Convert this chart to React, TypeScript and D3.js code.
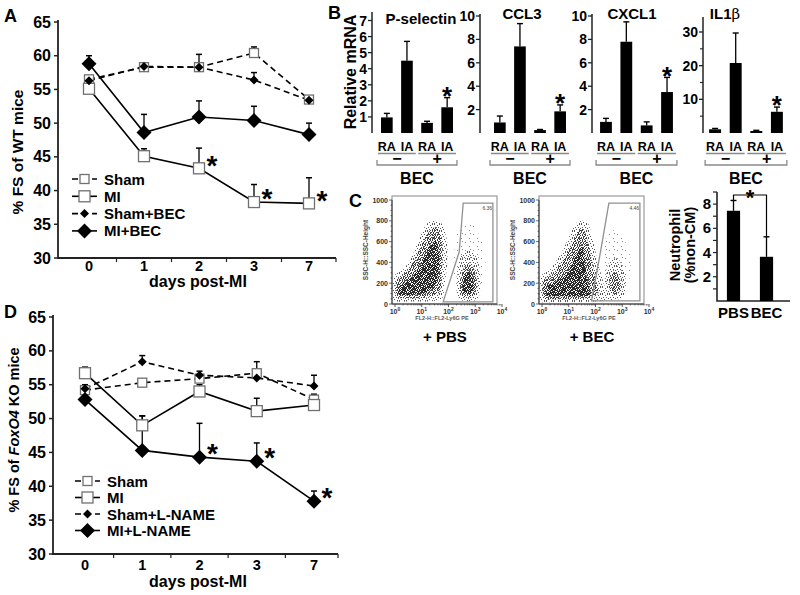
import React from "react";
import * as d3 from "d3";

const FONT = "'Liberation Sans', Arial, Helvetica, sans-serif";

// ---------------- Panels A & D ----------------
const days = ["0", "1", "2", "3", "7"];
const yTicksFS = [30, 35, 40, 45, 50, 55, 60, 65];

const aSham = [56.5, 58.3, 58.3, 60.4, 53.5];
const aShamErr = [0.4, 0.3, 1.9, 0.9, 0.4];
const aMI = [55.1, 45.1, 43.3, 38.3, 38.1];
const aMIErr = [0.5, 1.1, 3.0, 2.6, 3.8];
const aShamBEC = [56.3, 58.4, 58.3, 56.4, 53.4];
const aShamBECErr = [0.5, 0.3, 0.3, 1.1, 0.4];
const aMIBEC = [58.8, 48.6, 50.9, 50.4, 48.3];
const aMIBECErr = [1.2, 2.7, 2.4, 2.1, 1.7];
const aLegend = ["Sham", "MI", "Sham+BEC", "MI+BEC"];
const aStarDays = ["2", "3", "7"];

const dSham = [54.2, 55.3, 55.9, 56.7, 52.8];
const dShamErr = [0.5, 0.5, 0.5, 1.7, 0.8];
const dMI = [56.7, 49.0, 54.0, 51.1, 52.0];
const dMIErr = [0.9, 1.4, 1.0, 1.9, 1.0];
const dShamLN = [54.4, 58.4, 56.4, 56.0, 54.8];
const dShamLNErr = [0.6, 0.9, 0.6, 0.5, 1.6];
const dMILN = [52.8, 45.3, 44.3, 43.7, 37.8];
const dMILNErr = [0.5, 5.1, 5.0, 2.7, 1.5];
const dLegend = ["Sham", "MI", "Sham+L-NAME", "MI+L-NAME"];
const dStarDays = ["2", "3", "7"];

const markerKinds = ["sqS", "sqL", "dmS", "dmL"];
const dashedFlags = [true, false, true, false];

// ---------------- Panel B ----------------
const bCats = ["RA-", "IA-", "RA+", "IA+"];
const bCatLabels = ["RA", "IA", "RA", "IA"];
const bGroupSigns = ["\u2212", "+"];
const pselVals = [0.97, 4.5, 0.63, 1.6];
const pselErr = [0.25, 1.2, 0.1, 0.6];
const ccl3Vals = [0.9, 7.4, 0.25, 1.85];
const ccl3Err = [0.55, 1.95, 0.05, 0.55];
const cxcl1Vals = [0.95, 7.8, 0.65, 3.5];
const cxcl1Err = [0.3, 1.7, 0.3, 1.25];
const il1bVals = [1.1, 20.8, 0.6, 6.3];
const il1bErr = [0.25, 8.9, 0.2, 1.4];

// ---------------- Panel C ----------------
const nCats = ["PBS", "BEC"];
const nVals = [7.45, 3.65];
const nErr = [0.85, 1.65];
const flowYTicks = [0, 200, 400, 600, 800, 1000];
const flowDecades = [0, 1, 2, 3, 4];

// cloud outlines in (log10 FL2, SSC) units
const pbsLayers = [
  { pat: "st0", pts: [[2.2, 300], [2.35, 700], [2.9, 760], [3.35, 520], [3.3, 200], [2.6, 120]] },
  { pat: "st1", pts: [[-0.05, 40], [-0.05, 260], [0.3, 330], [0.6, 440], [0.9, 620], [1.15, 760], [1.45, 800], [1.75, 770], [1.95, 600], [1.95, 380], [1.85, 180], [1.75, 50], [1.2, 25], [0.5, 25]] },
  { pat: "st2", pts: [[0.05, 70], [0.05, 220], [0.4, 300], [0.75, 430], [1.05, 600], [1.35, 720], [1.6, 730], [1.78, 560], [1.75, 300], [1.65, 110], [1.1, 60], [0.5, 55]] },
  { pat: "st3", pts: [[0.15, 90], [0.2, 180], [0.6, 250], [1.0, 400], [1.3, 560], [1.55, 600], [1.65, 420], [1.55, 200], [1.2, 110], [0.6, 90]] },
  { pat: "st1", pts: [[2.35, 60], [2.3, 250], [2.45, 450], [2.75, 520], [3.1, 420], [3.2, 200], [3.1, 50], [2.7, 30]] },
  { pat: "st2", pts: [[2.45, 90], [2.45, 250], [2.65, 380], [2.95, 340], [3.05, 180], [2.95, 80], [2.7, 60]] },
  { pat: "st3", pts: [[2.55, 130], [2.6, 280], [2.85, 300], [2.95, 180], [2.8, 100]] },
];
const becLayers = [
  { pat: "st0", pts: [[2.3, 300], [2.4, 650], [2.9, 700], [3.3, 450], [3.2, 180], [2.6, 120]] },
  { pat: "st1", pts: [[-0.05, 30], [-0.05, 260], [0.3, 330], [0.7, 480], [1.0, 640], [1.25, 770], [1.5, 800], [1.75, 760], [1.95, 560], [2.1, 380], [2.3, 200], [2.35, 40], [1.5, 20], [0.5, 20]] },
  { pat: "st2", pts: [[0.05, 60], [0.05, 220], [0.45, 300], [0.85, 450], [1.15, 600], [1.4, 720], [1.6, 700], [1.8, 500], [1.95, 300], [2.1, 100], [1.5, 50], [0.5, 45]] },
  { pat: "st3", pts: [[0.15, 80], [0.2, 170], [0.6, 230], [1.0, 330], [1.3, 480], [1.5, 560], [1.6, 400], [1.7, 220], [1.8, 90], [1.2, 70], [0.6, 75]] },
  { pat: "st1", pts: [[2.4, 60], [2.35, 250], [2.55, 420], [2.85, 430], [3.1, 300], [3.1, 100], [2.8, 40]] },
  { pat: "st2", pts: [[2.55, 120], [2.55, 280], [2.8, 300], [2.95, 200], [2.85, 100]] },
];
const pbsGate = [[1.8, 20], [2.4, 500], [2.55, 970], [3.66, 970], [3.66, 20]];
const becGate = [[1.85, 30], [2.2, 520], [2.5, 970], [3.66, 970], [3.66, 30]];

// stipple textures (tile size, dot offsets, colour)
const stipples = [
  { id: "st0", size: 8, color: "#888", dots: [[1, 2], [5, 6], [6, 1]] },
  { id: "st1", size: 7, color: "#555", dots: [[0, 0], [3, 1], [5, 0], [1, 3], [4, 3], [6, 4], [2, 5], [5, 6], [0, 6]] },
  { id: "st2", size: 5, color: "#3a3a3a", dots: [[0, 0], [2, 0], [4, 1], [1, 2], [3, 2], [0, 3], [2, 4], [4, 4], [3, 3]] },
  { id: "st3", size: 4, color: "#1e1e1e", dots: [[0, 0], [1, 1], [2, 0], [3, 2], [0, 2], [2, 3], [1, 3], [3, 1]] },
];

const STAR_OFF = 0.58;

function Marker({ kind, x, y }: any) {
  if (kind === "sqS") return <rect x={x - 4.5} y={y - 4.5} width={9} height={9} fill="#fff" stroke="#707070" strokeWidth={1.3} />;
  if (kind === "sqL") return <rect x={x - 5.5} y={y - 5.5} width={11} height={11} fill="#fff" stroke="#707070" strokeWidth={1.3} />;
  const r = kind === "dmS" ? 4.5 : 7.5;
  return <path d={`M${x},${y - r}L${x + r},${y}L${x},${y + r}L${x - r},${y}Z`} fill="#000" />;
}

function LinePanel(p: any) {
  const x = d3.scalePoint<string>().domain(days).range(p.xRange);
  const y = d3.scaleLinear().domain([30, 65]).range([p.yBottom, p.yTop]);
  const step = x.step();
  const line = d3.line<number>().x((_, i) => x(days[i]) as number).y((v) => y(v));
  const xTickPos = days.slice(0, -1).map((d) => (x(d) as number) + step / 2).concat([p.axisEnd]);
  const series = p.series;
  const st = p.starSeries;
  return (
    <g>
      <text x={p.letterX} y={p.letterY} fontSize={18} fontWeight="bold">{p.letter}</text>
      <path d={`M${p.axisX},${p.yTop - 2}V${p.yBottom}H${p.axisEnd}`} fill="none" stroke="#222" strokeWidth={1.8} />
      {yTicksFS.map((t) => (
        <g key={t}>
          <line x1={p.axisX - 4} x2={p.axisX} y1={y(t)} y2={y(t)} stroke="#222" strokeWidth={1.5} />
          <text x={p.axisX - 7} y={y(t) + 5.5} textAnchor="end" fontSize={16} fontWeight="bold">{t}</text>
        </g>
      ))}
      {xTickPos.map((t, i) => (
        <line key={i} x1={t} x2={t} y1={p.yBottom} y2={p.yBottom + 4} stroke="#222" strokeWidth={1.2} />
      ))}
      {days.map((d) => (
        <text key={d} x={x(d)} y={p.tickLabelY} textAnchor="middle" fontSize={14.5} fontWeight="bold">{d}</text>
      ))}
      <text x={p.xTitleX} y={p.xTitleY} textAnchor="middle" fontSize={16} fontWeight="bold">days post-MI</text>
      <text transform={`translate(${p.titleX},${p.titleY}) rotate(-90)`} textAnchor="middle" fontSize={p.titleSize} fontWeight="bold">{p.titleNode}</text>
      {series.map((s: any, i: number) => (
        <path key={i} d={line(s.values) as string} fill="none" stroke="#000" strokeWidth={1.6} strokeDasharray={s.dashed ? "6,4" : undefined} />
      ))}
      {series.map((s: any, i: number) =>
        s.values.map((v: number, j: number) => {
          const cx = x(days[j]) as number;
          const y0 = y(v);
          const y1 = y(v + s.err[j]);
          return (
            <g key={`${i}-${j}`}>
              <line x1={cx} x2={cx} y1={y0} y2={y1} stroke="#000" strokeWidth={1.3} />
              <line x1={cx - 3} x2={cx + 3} y1={y1} y2={y1} stroke="#000" strokeWidth={1.5} />
            </g>
          );
        })
      )}
      {series.map((s: any, i: number) =>
        s.values.map((v: number, j: number) => <Marker key={`${i}-${j}`} kind={s.marker} x={x(days[j])} y={y(v)} />)
      )}
      {p.starDays.map((d: string) => {
        const j = days.indexOf(d);
        const cx = (x(d) as number) + 13;
        const cy = y(series[st].values[j]) - 10;
        return <text key={d} x={cx} y={cy + 28 * STAR_OFF} textAnchor="middle" fontSize={28} fontWeight="bold">*</text>;
      })}
      {series.map((s: any, i: number) => {
        const ly = p.legendY0 + i * p.legendDy;
        const mx = (p.legendLineX[0] + p.legendLineX[1]) / 2;
        return (
          <g key={i}>
            <line x1={p.legendLineX[0]} x2={p.legendLineX[1]} y1={ly} y2={ly} stroke="#000" strokeWidth={1.6} strokeDasharray={s.dashed ? "6,4" : undefined} />
            <Marker kind={s.marker} x={mx} y={ly} />
            <text x={p.legendTextX} y={ly + 5.5} fontSize={15} fontWeight="bold">{p.legend[i]}</text>
          </g>
        );
      })}
    </g>
  );
}

function MiniBar(p: any) {
  const x = d3.scaleBand<string>().domain(bCats).range([p.x0, p.x0 + p.span]).paddingInner(0.42).paddingOuter(0.2);
  const y = d3.scaleLinear().domain([0, p.yMax]).range([133, p.yTop]);
  const bw = x.bandwidth();
  const groups = [[bCats[0], bCats[1]], [bCats[2], bCats[3]]];
  const left = (x(bCats[0]) as number) - 4;
  const right = (x(bCats[3]) as number) + bw + 4;
  return (
    <g>
      <text x={p.titleX} y={p.titleY} textAnchor="middle" fontSize={15} fontWeight="bold">{p.title}</text>
      <line x1={p.axisX} x2={p.axisX} y1={p.axisTop} y2={133} stroke="#222" strokeWidth={1.5} />
      {p.ticks.map((t: number) => (
        <g key={t}>
          <line x1={p.axisX - 4} x2={p.axisX} y1={y(t)} y2={y(t)} stroke="#222" strokeWidth={1.3} />
          <text x={p.axisX - 5} y={y(t) + 5} textAnchor="end" fontSize={14} fontWeight="bold">{t}</text>
        </g>
      ))}
      {(p.minor || []).map((t: number) => (
        <line key={t} x1={p.axisX - 3} x2={p.axisX} y1={y(t)} y2={y(t)} stroke="#222" strokeWidth={1.1} />
      ))}
      {bCats.map((c, i) => {
        const bx = x(c) as number;
        const top = y(p.vals[i]);
        const et = y(p.vals[i] + p.errs[i]);
        return (
          <g key={c}>
            <rect x={bx} y={top} width={bw} height={133 - top} fill="#000" />
            <line x1={bx + bw / 2} x2={bx + bw / 2} y1={top} y2={et} stroke="#000" strokeWidth={1.3} />
            <line x1={bx + bw / 2 - 3} x2={bx + bw / 2 + 3} y1={et} y2={et} stroke="#000" strokeWidth={1.4} />
            <text x={bx + bw / 2} y={151} textAnchor="middle" fontSize={12.5} fontWeight="bold">{bCatLabels[i]}</text>
            {i === 3 ? (
              <text x={bx + bw / 2} y={et - 8 + 26 * STAR_OFF} textAnchor="middle" fontSize={26} fontWeight="bold">*</text>
            ) : null}
          </g>
        );
      })}
      {groups.map((g, k) => {
        const gx0 = (x(g[0]) as number) - 3;
        const gx1 = (x(g[1]) as number) + bw + 3;
        return (
          <g key={k}>
            <line x1={gx0} x2={gx1} y1={153.5} y2={153.5} stroke="#8a8a8a" strokeWidth={1.5} />
            <text x={(gx0 + gx1) / 2} y={164} textAnchor="middle" fontSize={16} fontWeight="bold">{bGroupSigns[k]}</text>
          </g>
        );
      })}
      <path d={`M${left},${160}V${165}H${right}V${160}`} fill="none" stroke="#8a8a8a" strokeWidth={1.3} />
      <text x={(left + right) / 2} y={184} textAnchor="middle" fontSize={16} fontWeight="bold">BEC</text>
    </g>
  );
}

function FlowPlot(p: any) {
  const x = d3.scaleLog().domain([1, 1e4]).range([p.axisX + 3, p.axisX + 110]);
  const y = d3.scaleLinear().domain([0, 1000]).range([304, 200]);
  const px = (lx: number) => x(Math.pow(10, lx));
  const cloud = d3.line<number[]>().x((d) => px(d[0])).y((d) => y(d[1])).curve(d3.curveCardinalClosed.tension(0.2));
  const gateLine = d3.line<number[]>().x((d) => px(d[0])).y((d) => y(d[1]));
  const minorY = d3.range(0, 1001, 50);
  const minorX = flowDecades.slice(0, 4).flatMap((k) => d3.range(2, 10).map((m) => m * Math.pow(10, k)));
  return (
    <g>
      {p.layers.map((L: any, i: number) => (
        <path key={i} d={cloud(L.pts) as string} fill={`url(#${L.pat})`} />
      ))}
      <rect x={p.axisX} y={196} width={p.frameRight - p.axisX} height={108} fill="none" stroke="#9a9a9a" strokeWidth={1.2} />
      <path d={(gateLine(p.gate) as string) + "Z"} fill="none" stroke="#909090" strokeWidth={1.3} />
      <text x={px(3.45)} y={y(900)} textAnchor="middle" fontSize={5} fill="#444">{p.gateLabel}</text>
      <path d={`M${p.axisX},200V304H${p.frameRight}`} fill="none" stroke="#333" strokeWidth={1} />
      {minorY.map((t) => (
        <line key={t} x1={p.axisX - (t % 200 === 0 ? 3 : 1.5)} x2={p.axisX} y1={y(t)} y2={y(t)} stroke="#333" strokeWidth={0.7} />
      ))}
      {flowYTicks.map((t) => (
        <text key={t} x={p.axisX - 4} y={y(t) + 2.5} textAnchor="end" fontSize={7} fontWeight="bold" fill="#333">{t}</text>
      ))}
      {minorX.map((t, i) => (
        <line key={i} x1={x(t)} x2={x(t)} y1={304} y2={305.5} stroke="#333" strokeWidth={0.6} />
      ))}
      {flowDecades.map((k) => (
        <g key={k}>
          <line x1={px(k)} x2={px(k)} y1={304} y2={307} stroke="#333" strokeWidth={0.8} />
          <text x={px(k)} y={314} textAnchor="middle" fontSize={7} fontWeight="bold" fill="#333">
            10<tspan dy={-3} fontSize={5}>{k}</tspan>
          </text>
        </g>
      ))}
      <text transform={`translate(${p.axisX - 24},250) rotate(-90)`} textAnchor="middle" fontSize={6.5} fontWeight="bold" fill="#444">SSC-H::SSC-Height</text>
      <text x={p.axisX + 50} y={320} textAnchor="middle" fontSize={5.5} fontWeight="bold" fill="#555">FL2-H::FL2-Ly6G PE</text>
      <text x={p.captionX} y={342} textAnchor="middle" fontSize={15} fontWeight="bold">{p.caption}</text>
    </g>
  );
}

function NeutroPanel() {
  const x = d3.scaleBand<string>().domain(nCats).range([717, 783]).paddingInner(0.6).paddingOuter(0.3);
  const y = d3.scaleLinear().domain([0, 9]).range([301, 192]);
  const bw = x.bandwidth();
  const cx = nCats.map((c) => (x(c) as number) + bw / 2);
  const tops = nVals.map((v, i) => y(v + nErr[i]));
  return (
    <g>
      <path d={`M717,${y(9)}V301H790`} fill="none" stroke="#222" strokeWidth={1.6} />
      {d3.range(1, 10).map((t) => (
        <line key={t} x1={713} x2={717} y1={y(t)} y2={y(t)} stroke="#222" strokeWidth={1.2} />
      ))}
      {[2, 4, 6, 8].map((t) => (
        <text key={t} x={711} y={y(t) + 5} textAnchor="end" fontSize={15} fontWeight="bold">{t}</text>
      ))}
      {nCats.map((c, i) => {
        const top = y(nVals[i]);
        return (
          <g key={c}>
            <rect x={x(c)} y={top} width={bw} height={301 - top} fill="#000" />
            <line x1={cx[i]} x2={cx[i]} y1={top} y2={tops[i]} stroke="#000" strokeWidth={1.3} />
            <line x1={cx[i] - 3} x2={cx[i] + 3} y1={tops[i]} y2={tops[i]} stroke="#000" strokeWidth={1.4} />
            <text x={cx[i]} y={318} textAnchor="middle" fontSize={15} fontWeight="bold">{c}</text>
          </g>
        );
      })}
      <path d={`M${cx[0]},${tops[0]}V195H${cx[1]}V${tops[1]}`} fill="none" stroke="#000" strokeWidth={1.2} />
      <text x={(cx[0] + cx[1]) / 2} y={192 + 22 * STAR_OFF} textAnchor="middle" fontSize={22} fontWeight="bold">*</text>
      <text transform="translate(680,245) rotate(-90)" textAnchor="middle" fontSize={14.5} fontWeight="bold">Neutrophil</text>
      <text transform="translate(695,245) rotate(-90)" textAnchor="middle" fontSize={14.5} fontWeight="bold">(%non-CM)</text>
    </g>
  );
}

export default function App() {
  const seriesA = [aSham, aMI, aShamBEC, aMIBEC].map((v, i) => ({
    values: v, err: [aShamErr, aMIErr, aShamBECErr, aMIBECErr][i], dashed: dashedFlags[i], marker: markerKinds[i],
  }));
  const seriesD = [dSham, dMI, dShamLN, dMILN].map((v, i) => ({
    values: v, err: [dShamErr, dMIErr, dShamLNErr, dMILNErr][i], dashed: dashedFlags[i], marker: markerKinds[i],
  }));
  return (
    <svg width={800} height={595} style={{ position: "absolute", left: 0, top: 0 }} fontFamily={FONT}>
      <defs>
        {stipples.map((s) => (
          <pattern key={s.id} id={s.id} width={s.size} height={s.size} patternUnits="userSpaceOnUse">
            {s.dots.map((d, i) => (
              <rect key={i} x={d[0]} y={d[1]} width={1} height={1} fill={s.color} />
            ))}
          </pattern>
        ))}
      </defs>
      <rect width={800} height={595} fill="#fff" />

      <LinePanel
        series={seriesA} legend={aLegend} letter="A" letterX={4} letterY={22}
        axisX={58} yTop={22} yBottom={258} xRange={[89, 309]} axisEnd={336}
        tickLabelY={271} xTitleX={198} xTitleY={287}
        titleNode="% FS of WT mice" titleX={23} titleY={152} titleSize={15.5}
        legendLineX={[72, 97]} legendTextX={104} legendY0={179} legendDy={17.3}
        starSeries={1} starDays={aStarDays}
      />
      <LinePanel
        series={seriesD} legend={dLegend} letter="D" letterX={4} letterY={318}
        axisX={53} yTop={317} yBottom={554} xRange={[85, 314]} axisEnd={338}
        tickLabelY={570} xTitleX={198} xTitleY={587}
        titleNode={<>% FS of <tspan fontStyle="italic">FoxO4</tspan> KO mice</>} titleX={19} titleY={430} titleSize={14.5}
        legendLineX={[75, 100]} legendTextX={107} legendY0={481} legendDy={16.5}
        starSeries={3} starDays={dStarDays}
      />

      {/* Panel B */}
      <text x={328} y={19} fontSize={18} fontWeight="bold">B</text>
      <text transform="translate(356,72) rotate(-90)" textAnchor="middle" fontSize={16} fontWeight="bold">Relative mRNA</text>
      <MiniBar x0={377} span={80} axisX={372} axisTop={12} yMax={7} yTop={20.5} ticks={[1, 2, 3, 4, 5, 6, 7]}
        title="P-selectin" titleX={421} titleY={24} vals={pselVals} errs={pselErr} />
      <MiniBar x0={490} span={80} axisX={480} axisTop={14} yMax={10} yTop={16} ticks={[2, 4, 6, 8, 10]}
        title="CCL3" titleX={522} titleY={19} vals={ccl3Vals} errs={ccl3Err} />
      <MiniBar x0={596} span={81} axisX={592} axisTop={14} yMax={10} yTop={16} ticks={[2, 4, 6, 8, 10]}
        title="CXCL1" titleX={632} titleY={19} vals={cxcl1Vals} errs={cxcl1Err} />
      <MiniBar x0={705} span={82} axisX={703} axisTop={17} yMax={30} yTop={32} ticks={[10, 20, 30]} minor={[5, 15, 25]}
        title={<>IL1<tspan fontFamily="'DejaVu Serif', serif" fontWeight="normal">β</tspan></>} titleX={725} titleY={19}
        vals={il1bVals} errs={il1bErr} />

      {/* Panel C */}
      <text x={349} y={207} fontSize={18} fontWeight="bold">C</text>
      <FlowPlot axisX={392} frameRight={497} layers={pbsLayers} gate={pbsGate} gateLabel="6.36" caption="+ PBS" captionX={445} />
      <FlowPlot axisX={539} frameRight={644} layers={becLayers} gate={becGate} gateLabel="4.46" caption="+ BEC" captionX={592} />
      <NeutroPanel />
    </svg>
  );
}
